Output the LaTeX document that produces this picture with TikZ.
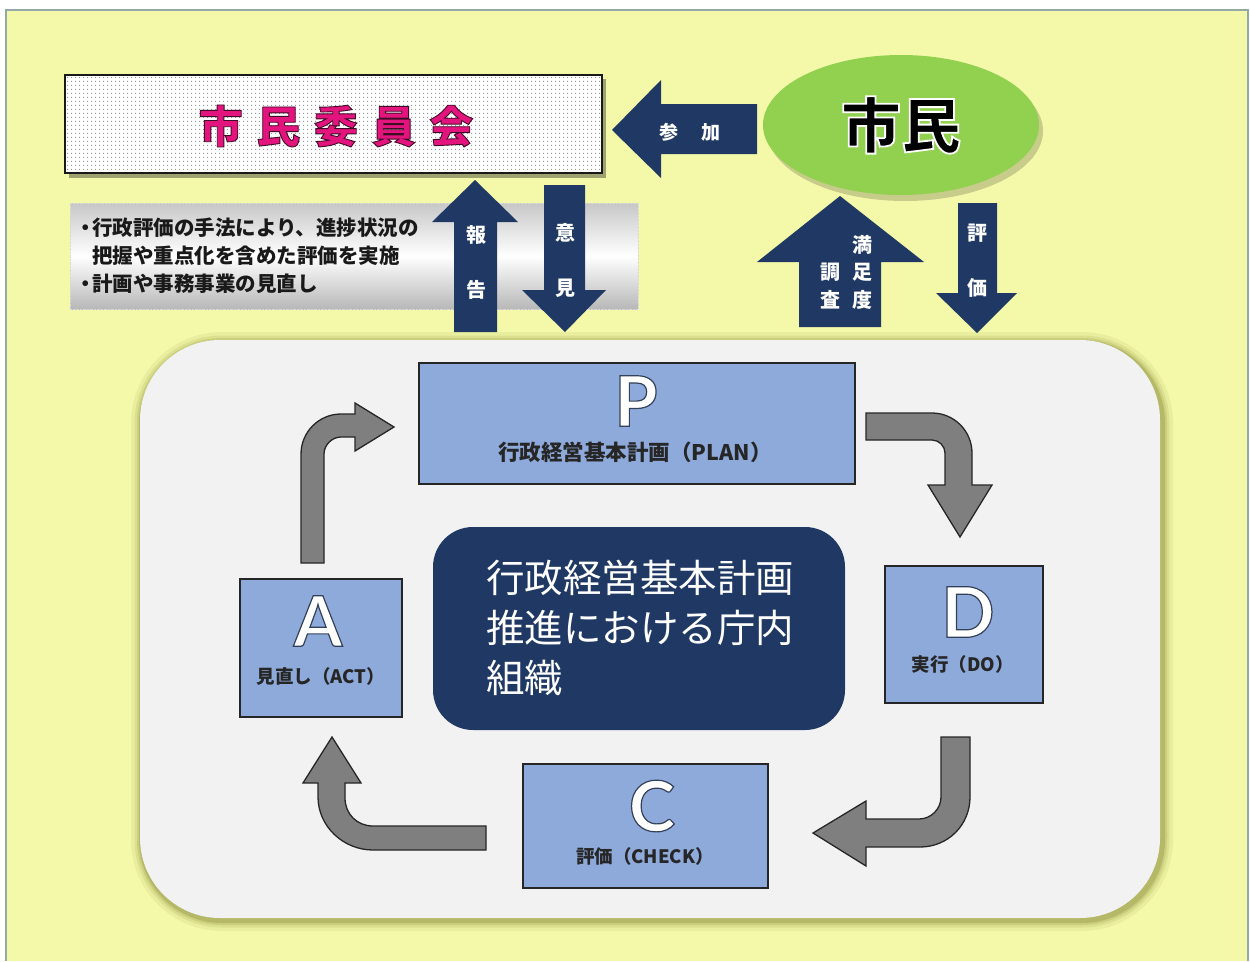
\documentclass[tikz,border=0pt]{standalone}
\usepackage{fontspec}
\setmainfont{Noto Sans CJK JP}
\newfontfamily\latinL{Lato}
\usetikzlibrary{shapes.geometric,patterns.meta}
\definecolor{bgY}{HTML}{F4F9A9}
\definecolor{frameC}{HTML}{93A9A8}
\definecolor{navy}{HTML}{1F3864}
\definecolor{boxblue}{HTML}{8EAADB}
\definecolor{arrgray}{HTML}{7F7F7F}
\definecolor{panel}{HTML}{F2F2F2}
\definecolor{glowC}{HTML}{8F9140}
\definecolor{leafgreen}{HTML}{92D050}
\definecolor{pinkC}{HTML}{E4147F}
\newcommand\outl[3]{\special{pdf:literal direct #2 w #1 RG 2 Tr}#3\special{pdf:literal direct 0 Tr}}
\newcommand\nakaguro{\makebox[12pt][c]{・}}
\tikzset{
  navyarrow/.style={fill=navy, draw=none},
  cyclearrow/.style={fill=arrgray, draw=black!85, line width=1.3pt, line join=miter},
  phasebox/.style={fill=boxblue, draw=black!85, line width=1.3pt, anchor=north west},
  bigletter/.style={font=\latinL\bfseries\fontsize{70}{70}\selectfont, text=white},
  phaselabel/.style={font=\bfseries\fontsize{18.5}{18.5}\selectfont, text=black!85},
  navylabel/.style={font=\bfseries\fontsize{20}{55}\selectfont, text=white, align=center},
}
\begin{document}
\begin{tikzpicture}[x=1pt,y=-1pt, every node/.style={inner sep=0pt, outer sep=0pt}]
\useasboundingbox (0,0) rectangle (1250,961);
\fill[white] (0,0) rectangle (1250,961);
\fill[bgY] (6,10) rectangle (1248,961);
\draw[frameC, line width=2pt] (6,961) -- (6,10) -- (1248,10) -- (1248,961);

% main panel with olive glow
\foreach \w/\o in {22/0.10, 15/0.15, 10/0.22, 6/0.35}
  \draw[glowC, line width=\w pt, opacity=\o, rounded corners=80pt] (142,343) rectangle (1162,920);
\node[fill=panel, rounded corners=80pt, minimum width=1020pt, minimum height=578pt, anchor=north west] (panel) at (140,340) {};

% explanatory text box
\node[top color=black!22, bottom color=black!28, middle color=white, draw=black!15, densely dotted, minimum width=568pt, minimum height=106pt, anchor=north west] (note) at (70,203) {};
\node[font=\bfseries\fontsize{20.5}{28}\selectfont, align=left, anchor=west, text=black!90] (notetext) at (80,256)
  {\nakaguro 行政評価の手法により、進捗状況の\\\hspace*{12pt}把握や重点化を含めた評価を実施\\\nakaguro 計画や事務事業の見直し};

% citizens committee box
\fill[black, opacity=0.35] (69,79) rectangle (606,178);
\node[draw=black!90, line width=1.6pt, minimum width=537pt, minimum height=98pt, anchor=north west,
      preaction={fill=white}, pattern={Dots[distance=4pt, radius=0.75pt]}, pattern color=black!45] (iin) at (65,75) {};
\node[font=\bfseries\fontsize{44}{44}\selectfont\addfontfeatures{LetterSpace=31}, text=pinkC] (iintext) at (336,126)
  {\outl{0.25 0.05 0.15}{0.9}{市民委員会}};

% citizens ellipse
\fill[black, opacity=0.18] (905,131) ellipse [x radius=138, y radius=70];
\node[ellipse, fill=leafgreen, minimum width=276pt, minimum height=140pt, font=\bfseries\fontsize{60}{60}\selectfont] (shimin) at (901,125)
  {\outl{1 1 1}{1.8}{市民}};

% navy block arrows
\draw[navyarrow] (612,130) -- (661,80) -- (661,104) -- (757,104) -- (757,154) -- (661,154) -- (661,178) -- cycle;
\node[font=\bfseries\fontsize{19}{19}\selectfont, text=white] (sanka) at (690,132) {参\hspace{23pt}加};

\draw[navyarrow] (475,180) -- (518,222) -- (497,222) -- (497,332) -- (454,332) -- (454,222) -- (432,222) -- cycle;
\node[navylabel] (houkoku) at (476,262) {報\\告};

\draw[navyarrow] (544,185) -- (585,185) -- (585,290) -- (606,290) -- (565,332) -- (522,290) -- (544,290) -- cycle;
\node[navylabel] (iken) at (565,260) {意\\見};

\draw[navyarrow] (840,196) -- (924,262) -- (881,262) -- (881,327) -- (799,327) -- (799,262) -- (757,262) -- cycle;
\node[navylabel, font=\bfseries\fontsize{20}{27.5}\selectfont] (manzoku) at (862,272) {満\\足\\度};
\node[navylabel, font=\bfseries\fontsize{20}{27.5}\selectfont] (chousa) at (830,286) {調\\査};

\draw[navyarrow] (958,203) -- (997,203) -- (997,293) -- (1017,293) -- (977,333) -- (936,293) -- (958,293) -- cycle;
\node[navylabel] (hyouka) at (977,261) {評\\価};

% PDCA boxes
\node[phasebox, minimum width=436pt, minimum height=121pt] (P) at (419,363) {};
\node[bigletter] (Pl) at (636,401) {\outl{0.2 0.25 0.35}{1.2}{P}};
\node[phaselabel, font=\bfseries\fontsize{21.5}{21.5}\selectfont] (Pt) at (635,452) {行政経営基本計画（PLAN）};

\node[phasebox, minimum width=158pt, minimum height=137pt] (D) at (885,566) {};
\node[bigletter] (Dl) at (968,612) {\outl{0.2 0.25 0.35}{1.2}{D}};
\node[phaselabel] (Dt) at (963,664) {実行（DO）};

\node[phasebox, minimum width=245pt, minimum height=124pt] (C) at (523,764) {};
\node[bigletter] (Cl) at (652,806) {\outl{0.2 0.25 0.35}{1.2}{C}};
\node[phaselabel] (Ct) at (645,856) {評価（CHECK）};

\node[phasebox, minimum width=162pt, minimum height=138pt] (A) at (240,579) {};
\node[bigletter] (Al) at (318,621) {\outl{0.2 0.25 0.35}{1.2}{A}};
\node[phaselabel] (At) at (321,676) {見直し（ACT）};

% central organisation box
\node[fill=navy, rounded corners=40pt, minimum width=412pt, minimum height=203pt, anchor=north west] (org) at (433,527) {};
\node[font=\fontsize{38.5}{50}\selectfont, text=white, align=left] (orgtext) at (640,628)
  {行政経営基本計画\\推進における庁内\\組織};

% cycle arrows
% A -> P
\draw[cyclearrow] (301,563) -- (301,454) .. controls (301,432) and (319,414) .. (341,414)
  -- (355,414) -- (355,403) -- (394,427) -- (355,451) -- (355,437) -- (341,437)
  .. controls (332,437) and (324,445) .. (324,454) -- (324,563) -- cycle;
% P -> D
\draw[cyclearrow] (866,413) -- (932,413) .. controls (954,413) and (972,431) .. (972,453)
  -- (972,485) -- (992,485) -- (960,537) -- (928,485) -- (945,485) -- (945,453)
  .. controls (945,446) and (939,440) .. (932,440) -- (866,440) -- cycle;
% D -> C
\draw[cyclearrow] (941,737) -- (970,737) -- (970,797) .. controls (970,825) and (948,847) .. (920,847)
  -- (866,847) -- (866,866) -- (813,833) -- (866,801) -- (866,819) -- (919,819)
  .. controls (931,819) and (941,809) .. (941,797) -- cycle;
% C -> A
\draw[cyclearrow] (486,826) -- (373,826) .. controls (357,826) and (345,814) .. (345,798)
  -- (345,783) -- (361,783) -- (332,737) -- (303,783) -- (318,783) -- (318,797)
  .. controls (318,826) and (343,850) .. (373,850) -- (486,850) -- cycle;
\end{tikzpicture}
\end{document}
